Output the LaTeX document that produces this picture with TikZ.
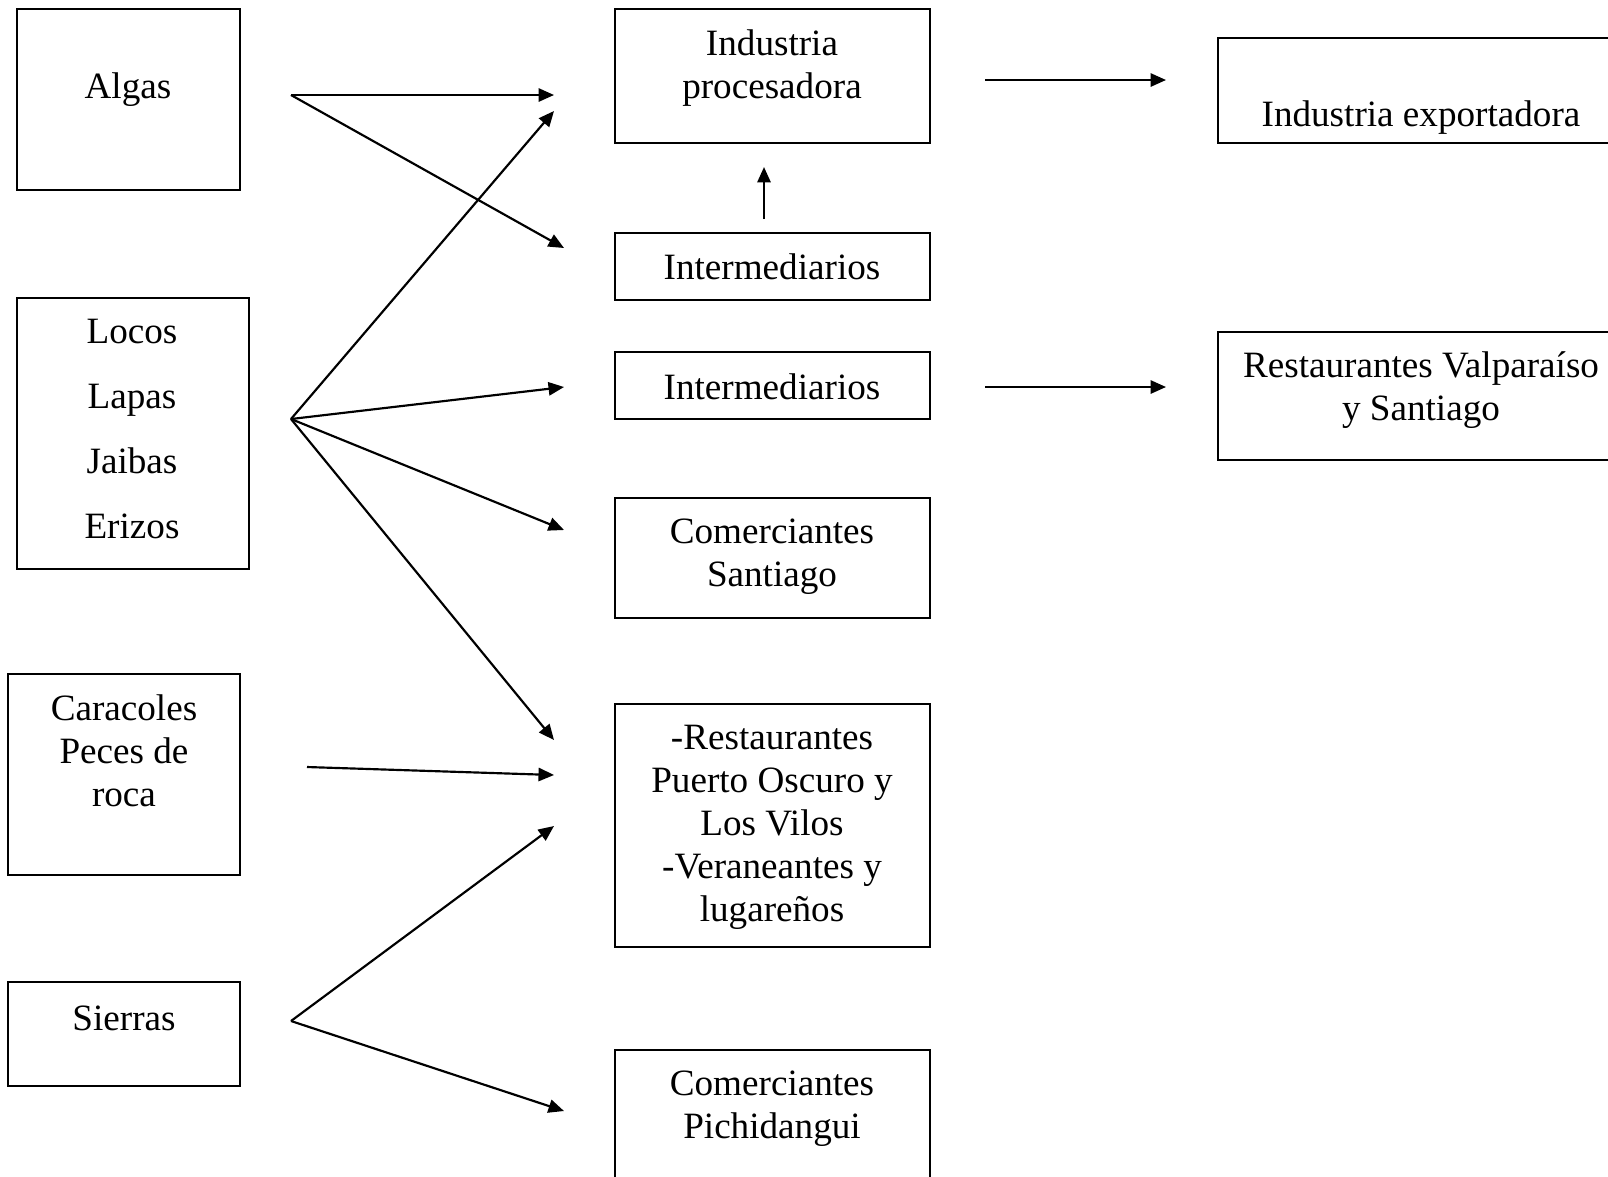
\documentclass[tikz,border=0pt]{standalone}
\usepackage{fontspec}
\setmainfont{Liberation Serif}
\usepackage{tikz}
\usetikzlibrary{arrows.meta}

\newcommand{\pxu}{0.01135cm}

\begin{document}
\begin{tikzpicture}[
  x=0.01135cm, y=-0.01135cm,
  box/.style={draw, line width=0.6pt, inner sep=0pt},
  lbl/.style={align=center, inner sep=0pt, font=\fontsize{12}{13.9}\selectfont},
  widelbl/.style={align=center, inner sep=0pt, font=\fontsize{12}{20.9}\selectfont},
  arr/.style={-{Triangle[length=5pt, width=4.3pt]}, line width=0.7pt}
]
\useasboundingbox (0,0) rectangle (1608,1176);
\clip (0,0) rectangle (1608,1176);
% sources
\node[box, minimum width=223*\pxu, minimum height=181*\pxu] (algas) at (128.5,99.5) {};
\node[box, minimum width=232*\pxu, minimum height=271*\pxu] (locos) at (133,433.5) {};
\node[box, minimum width=232*\pxu, minimum height=201*\pxu] (caracoles) at (124,774.5) {};
\node[box, minimum width=232*\pxu, minimum height=104*\pxu] (sierras) at (124,1034) {};
\node[lbl] (algasT) at (128,90) {Algas};
\node[widelbl] (locosT) at (132,429) {Locos\\Lapas\\Jaibas\\Erizos};
\node[lbl] (caracolesT) at (124,751) {Caracoles\\Peces de\\roca};
\node[lbl] (sierrasT) at (124,1018) {Sierras};
% destinations
\node[box, minimum width=315*\pxu, minimum height=134*\pxu] (proc) at (772.5,76) {};
\node[box, minimum width=315*\pxu, minimum height=67*\pxu] (interA) at (772.5,266.5) {};
\node[box, minimum width=315*\pxu, minimum height=67*\pxu] (interB) at (772.5,385.5) {};
\node[box, minimum width=315*\pxu, minimum height=120*\pxu] (comSant) at (772.5,558) {};
\node[box, minimum width=315*\pxu, minimum height=243*\pxu] (rest) at (772.5,825.5) {};
\node[box, minimum width=315*\pxu, minimum height=150*\pxu] (comPich) at (772.5,1125) {};
\node[lbl] (procT) at (772,68.5) {Industria\\procesadora};
\node[lbl] (interAT) at (772,267) {Intermediarios};
\node[lbl] (interBT) at (772,387) {Intermediarios};
\node[lbl] (comSantT) at (772,556.5) {Comerciantes\\Santiago};
\node[lbl] (restT) at (772,827.5) {-Restaurantes\\Puerto Oscuro y\\Los Vilos\\-Veraneantes y\\lugareños};
\node[lbl] (comPichT) at (772,1108.5) {Comerciantes\\Pichidangui};
% final markets
\node[box, minimum width=422*\pxu, minimum height=105*\pxu] (export) at (1429,90.5) {};
\node[box, minimum width=422*\pxu, minimum height=128*\pxu] (restVS) at (1429,396) {};
\node[lbl] (exportT) at (1421,118) {Industria exportadora};
\node[lbl] (restVST) at (1421,390.5) {Restaurantes Valparaíso\\y Santiago};
% arrow ends
\coordinate (algasOut) at (291,95);
\coordinate (algasTipA) at (554,95);
\coordinate (algasTipB) at (564,248);
\coordinate (locosOut) at (291,419);
\coordinate (locosTipA) at (554,111);
\coordinate (locosTipB) at (564,387);
\coordinate (locosTipC) at (564,530);
\coordinate (locosTipD) at (554,740);
\coordinate (caracolesOut) at (307,767);
\coordinate (caracolesTip) at (554,775);
\coordinate (sierrasOut) at (291,1021);
\coordinate (sierrasTipA) at (554,826);
\coordinate (sierrasTipB) at (564,1111);
\coordinate (interUpFrom) at (764,219);
\coordinate (interUpTo) at (764,167);
\coordinate (procOut) at (985,80);
\coordinate (procTip) at (1166,80);
\coordinate (interOut) at (985,387);
\coordinate (interTip) at (1166,387);
% arrows
\foreach \t in {algasTipA,algasTipB} \draw[arr] (algasOut) -- (\t);
\foreach \t in {locosTipA,locosTipB,locosTipC,locosTipD} \draw[arr] (locosOut) -- (\t);
\draw[arr] (caracolesOut) -- (caracolesTip);
\foreach \t in {sierrasTipA,sierrasTipB} \draw[arr] (sierrasOut) -- (\t);
\draw[arr] (interUpFrom) -- (interUpTo);
\draw[arr] (procOut) -- (procTip);
\draw[arr] (interOut) -- (interTip);
\end{tikzpicture}
\end{document}
